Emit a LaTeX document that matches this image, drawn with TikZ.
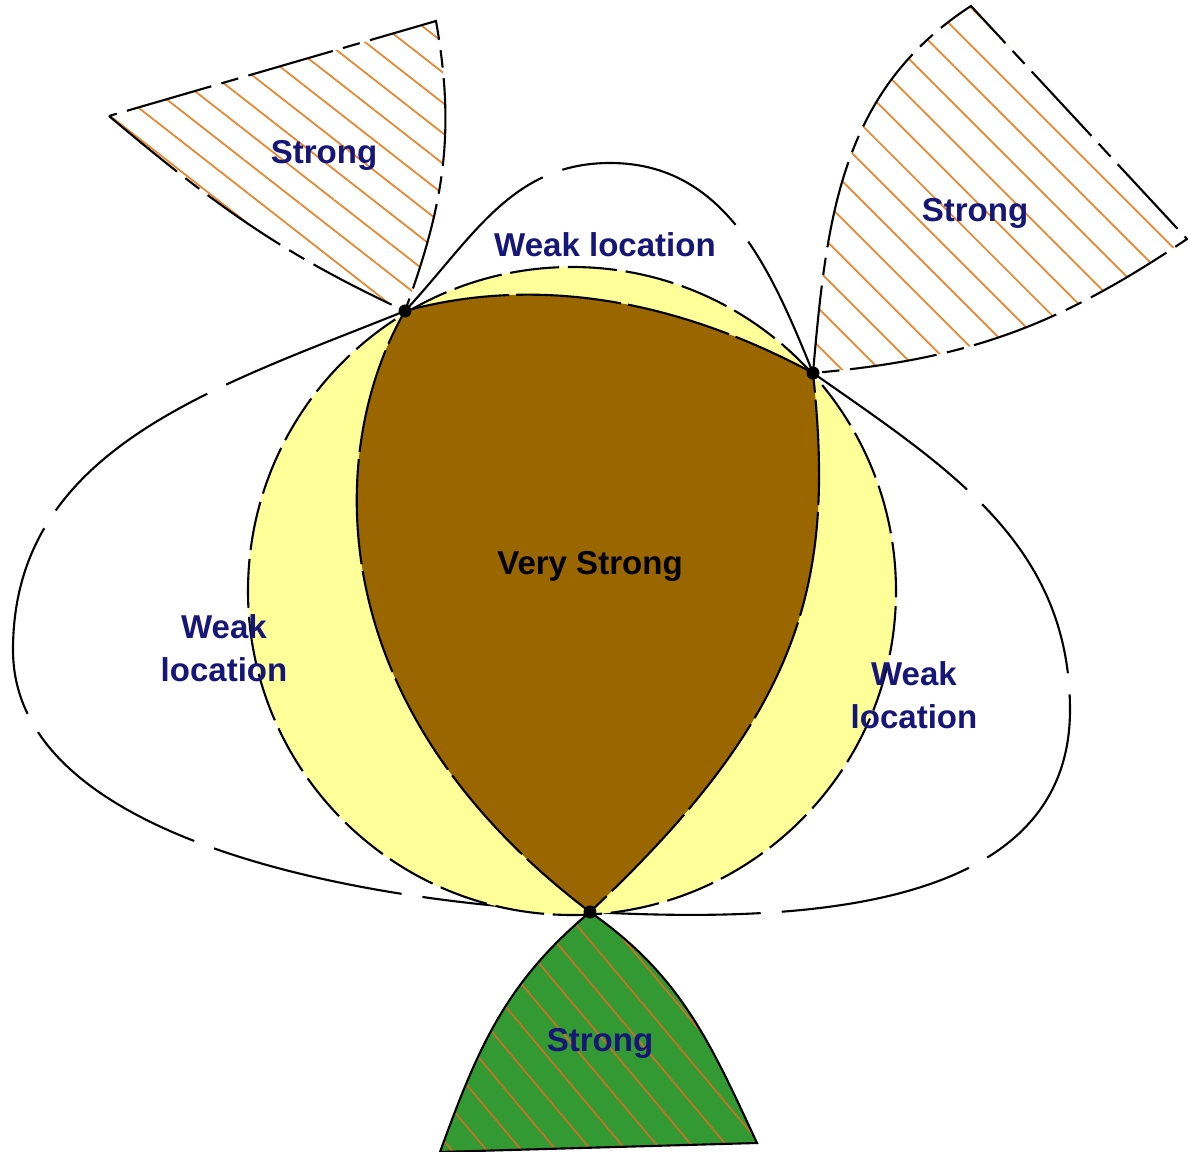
\documentclass[tikz,border=0pt]{standalone}
\usepackage{fontspec}
\setmainfont{Liberation Sans}
\usetikzlibrary{patterns.meta}

\definecolor{rimyellow}{RGB}{255,255,153}
\definecolor{corebrown}{RGB}{153,102,0}
\definecolor{leafgreen}{RGB}{51,153,51}
\definecolor{hatchorange}{RGB}{232,135,45}
\definecolor{labelnavy}{RGB}{22,22,120}

\begin{document}
\begin{tikzpicture}[
  line width=0.6pt,
  lobe/.style={dash pattern=on 55pt off 6pt},
  rim/.style={dash pattern=on 14pt off 2.5pt},
  coreedge/.style={dash pattern=on 30pt off 2pt},
  strongedge/.style={dash pattern=on 25pt off 3pt on 5pt off 3pt},
  lbl/.style={font=\fontsize{9.4}{12.2}\selectfont\bfseries, text=labelnavy, align=center, inner sep=0pt}
]
\path[fill=white,use as bounding box] (0,0) rectangle (11.88,-11.52);

% 頂点
\coordinate (A) at (4.05,-3.11);
\coordinate (B) at (8.13,-3.73);
\coordinate (C) at (5.90,-9.12);

% 弱い領域の輪郭
\draw[lobe] (A) to[out=47,in=180] (6.1,-1.63) to[out=0,in=112] (B);
\draw[lobe] (A) to[out=202,in=90] (0.13,-6.5) to[out=270,in=178,looseness=0.8] (C);
\draw[lobe] (B) to[out=-35,in=90] (10.7,-7.1) to[out=270,in=-3] (C);

% 球
\fill[rimyellow] (5.72,-5.91) circle (3.24);
\draw[rim] (5.72,-5.91) circle (3.24);

% 非常に強い領域
\draw[coreedge, fill=corebrown] (A) .. controls (5.0,-2.85) and (6.4,-2.8) .. (B)
  .. controls (8.35,-5.8) and (8.05,-7.1) .. (C)
  .. controls (3.1,-7.0) and (3.3,-4.4) .. (A) -- cycle;

% 強い領域
\coordinate (P1) at (1.09,-1.16);
\coordinate (P2) at (4.36,-0.21);
\draw[strongedge, pattern={Lines[angle=-38,distance=6.8pt,line width=0.5pt]}, pattern color=hatchorange]
  (P1) to[out=-40,in=155] (A) to[out=70,in=-80] (P2) -- cycle;

\coordinate (Q1) at (9.71,-0.06);
\coordinate (Q2) at (11.87,-2.39);
\draw[strongedge, pattern={Lines[angle=-45,distance=7.6pt,line width=0.5pt]}, pattern color=hatchorange]
  (B) to[out=85,in=213] (Q1) -- (Q2) to[out=214,in=5] (B) -- cycle;

\coordinate (G1) at (4.40,-11.52);
\coordinate (G2) at (7.57,-11.43);
\draw[preaction={fill=leafgreen}, pattern={Lines[angle=-50,distance=7.6pt,line width=0.5pt]}, pattern color=hatchorange!85!black]
  (C) to[out=220,in=70] (G1) -- (G2) to[out=115,in=-35] (C) -- cycle;

% 頂点の点
\foreach \p in {A,B,C}
  \fill (\p) circle (0.065);

% ラベル
\node[lbl] (strongTL) at (3.24,-1.55) {Strong};
\node[lbl] (strongTR) at (9.75,-2.13) {Strong};
\node[lbl] (strongB) at (6.00,-10.43) {Strong};
\node[lbl] (weakTop) at (6.05,-2.45) {Weak location};
\node[lbl] (weakL) at (2.24,-6.48) {Weak\\location};
\node[lbl] (weakR) at (9.14,-6.95) {Weak\\location};
\node[lbl, text=black] (veryStrong) at (5.90,-5.66) {Very Strong};
\end{tikzpicture}
\end{document}
